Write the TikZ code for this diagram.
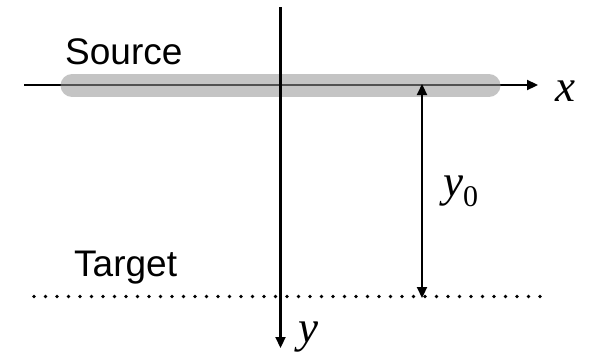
\documentclass[tikz,border=0pt]{standalone}
\usepackage{fontspec}
\setmainfont{Liberation Sans}
\newfontfamily\timesf{Liberation Serif}
\usetikzlibrary{arrows.meta}
\begin{document}
\begin{tikzpicture}[x=1pt,y=-1pt,
  axis/.style={line width=2.2pt, -{Triangle[length=11pt,width=10pt]}},
  dim/.style={line width=2.2pt, {Triangle[length=11pt,width=10pt]}-{Triangle[length=11pt,width=10pt]}},
  band/.style={line width=23pt, line cap=round, draw=black!42, draw opacity=0.55},
  dotline/.style={line width=3.6pt, line cap=round, dash pattern=on 0pt off 11.5pt},
  txt/.style={inner sep=0pt, anchor=base west, font=\fontsize{37}{37}\selectfont},
  mth/.style={inner sep=0pt, anchor=base west, font=\timesf\itshape\fontsize{45}{45}\selectfont}]
\useasboundingbox (0,0) rectangle (593,356);
\coordinate (xs) at (24,85);
\coordinate (xe) at (538,85);
\coordinate (ys) at (280.5,7);
\coordinate (ye) at (280.5,348);
\coordinate (bl) at (72,85.5);
\coordinate (br) at (489,85.5);
\coordinate (dl) at (34,296.5);
\coordinate (dr) at (540,296.5);
\coordinate (a0) at (422,84);
\coordinate (a1) at (422,298);
% x axis and source band
\draw[axis] (xs) -- (xe);
\draw[band] (bl) -- (br);
% target line
\draw[dotline] (dl) -- (dr);
% y axis
\draw[axis] (ys) -- (ye);
% distance y0
\draw[dim] (a0) -- (a1);
% labels
\node[txt] (src) at (65,64) {Source};
\node[txt] (tgt) at (74,276) {Target};
\node[mth] (xl) at (555,101) {x};
\node[mth] (yl) at (298,342) {y};
\node[mth] (y0) at (443,196) {y\raisebox{-10pt}{\upshape\fontsize{30}{30}\selectfont 0}};
\end{tikzpicture}
\end{document}
